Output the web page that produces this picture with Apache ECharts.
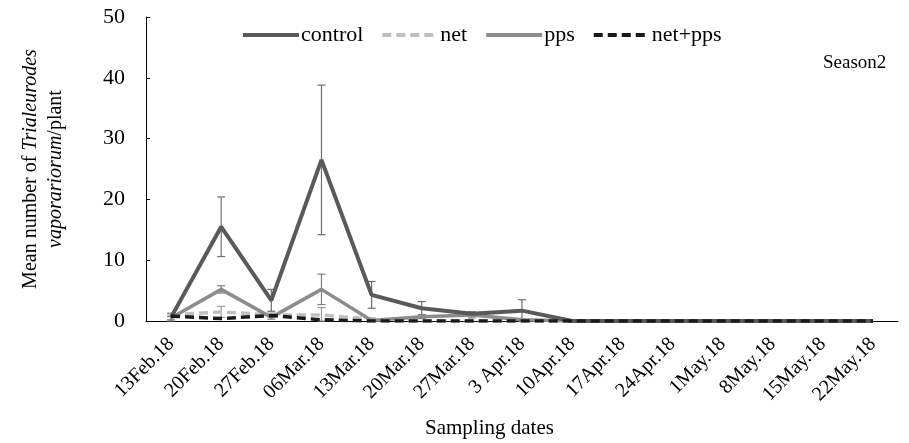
<!DOCTYPE html>
<html>
<head>
<meta charset="utf-8">
<script src="https://cdn.jsdelivr.net/npm/echarts@6/dist/echarts.min.js"></script>
<style>
  html, body { margin: 0; padding: 0; background: #fff; }
  #chart { width: 909px; height: 443px; }
</style>
</head>
<body>
<div id="chart"></div>
<script>
// Sampling dates (season 2)
var categories = ['13Feb.18', '20Feb.18', '27Feb.18', '06Mar.18', '13Mar.18', '20Mar.18', '27Mar.18',
  '3 Apr.18', '10Apr.18', '17Apr.18', '24Apr.18', '1May.18', '8May.18', '15May.18', '22May.18'];

// Mean number of whiteflies per plant, with standard errors
var control    = [0.6, 15.5, 3.4, 26.5, 4.3, 2.1, 1.2, 1.7, 0, 0, 0, 0, 0, 0, 0];
var controlErr = [0.6, 4.9, 1.8, 12.3, 2.2, 1.1, 0.3, 1.8, 0, 0, 0, 0, 0, 0, 0];
var net        = [1.0, 1.5, 1.0, 1.0, 0.3, 0, 0, 0, 0, 0, 0, 0, 0, 0, 0];
var netErr     = [0.3, 0.9, 0.3, 1.2, 0.2, 0, 0, 0, 0, 0, 0, 0, 0, 0, 0];
var pps        = [0.5, 5.2, 0.6, 5.2, 0.1, 0.7, 1.0, 0.2, 0, 0, 0, 0, 0, 0, 0];
var ppsErr     = [0.3, 0.6, 0.3, 2.5, 0.1, 0.3, 0.5, 0.1, 0, 0, 0, 0, 0, 0, 0];
var netPps     = [0.8, 0.4, 0.9, 0.2, 0, 0, 0, 0, 0, 0, 0, 0, 0, 0, 0];

var yTicks = { min: 0, max: 50, interval: 10 };

var FONT = "'Liberation Serif', 'Times New Roman', serif";

function errData(mean, err) {
  return mean.map(function (m, i) { return [i, m - err[i], m + err[i]]; });
}

function errorBars(name, mean, err, color) {
  return {
    type: 'custom',
    name: name + ' SE',
    z: 1,
    silent: true,
    data: errData(mean, err).filter(function (d) { return d[2] - d[1] > 0; }),
    renderItem: function (params, api) {
      var x = api.value(0);
      var lo = api.coord([x, Math.max(0, api.value(1))]);
      var hi = api.coord([x, api.value(2)]);
      var cap = 4;
      var style = { stroke: color, lineWidth: 1.2 };
      return {
        type: 'group',
        children: [
          { type: 'line', shape: { x1: hi[0], y1: hi[1], x2: lo[0], y2: lo[1] }, style: style },
          { type: 'line', shape: { x1: hi[0] - cap, y1: hi[1], x2: hi[0] + cap, y2: hi[1] }, style: style },
          { type: 'line', shape: { x1: lo[0] - cap, y1: lo[1], x2: lo[0] + cap, y2: lo[1] }, style: style }
        ]
      };
    }
  };
}

function lineSeries(name, data, color, width, dash, z) {
  return {
    type: 'line',
    name: name,
    data: data,
    z: z,
    symbol: 'none',
    showSymbol: false,
    lineStyle: { color: color, width: width, type: dash ? [9, 5] : 'solid' },
    itemStyle: { color: color }
  };
}

var chart = echarts.init(document.getElementById('chart'), null, { renderer: 'canvas' });

chart.setOption({
  animation: false,
  backgroundColor: '#ffffff',
  grid: { left: 146, right: 11, top: 17, bottom: 122 },
  legend: {
    left: 236,
    top: 19,
    itemWidth: 56,
    itemHeight: 14,
    itemGap: 17,
    data: ['control', 'net', 'pps', 'net+pps'],
    itemStyle: { opacity: 0 },
    lineStyle: { width: 4 },
    textStyle: { fontFamily: FONT, fontSize: 22, color: '#000', padding: [0, 0, 0, -3] }
  },
  xAxis: {
    type: 'category',
    data: categories,
    boundaryGap: true,
    axisLine: { lineStyle: { color: '#000', width: 1 } },
    axisTick: { show: false },
    axisLabel: {
      rotate: 45,
      interval: 0,
      margin: 20,
      fontFamily: FONT,
      fontSize: 20,
      color: '#000'
    }
  },
  yAxis: {
    type: 'value',
    min: yTicks.min,
    max: yTicks.max,
    interval: yTicks.interval,
    splitLine: { show: false },
    axisLine: { show: true, lineStyle: { color: '#000', width: 1 } },
    axisTick: { show: true, inside: true, length: 4, lineStyle: { color: '#000' } },
    axisLabel: { fontFamily: FONT, fontSize: 22, color: '#000', margin: 21 },
    name: '{n|Mean number of }{i|Trialeurodes}\n{i|vaporariorum}{n|/plant}',
    nameLocation: 'middle',
    nameRotate: 90,
    nameGap: 78,
    nameTextStyle: {
      align: 'center',
      lineHeight: 25,
      rich: {
        n: { fontFamily: FONT, fontSize: 20, color: '#000', lineHeight: 25 },
        i: { fontFamily: FONT, fontSize: 20, fontStyle: 'italic', color: '#000', lineHeight: 25 }
      }
    }
  },
  graphic: [
    {
      type: 'text', left: 823, top: 54,
      style: { text: 'Season2', font: '19px ' + FONT, fill: '#000' }
    },
    {
      type: 'text', left: 425, top: 418,
      style: { text: 'Sampling dates', font: '21px ' + FONT, fill: '#000' }
    }
  ],
  series: [
    errorBars('control', control, controlErr, '#6e6e6e'),
    errorBars('pps', pps, ppsErr, '#7f7f7f'),
    errorBars('net', net, netErr, '#9a9a9a'),
    lineSeries('control', control, '#595959', 4, false, 5),
    lineSeries('net', net, '#bfbfbf', 3.5, true, 3),
    lineSeries('pps', pps, '#8c8c8c', 3.5, false, 4),
    lineSeries('net+pps', netPps, '#1a1a1a', 3.5, true, 6)
  ]
});
</script>
</body>
</html>
